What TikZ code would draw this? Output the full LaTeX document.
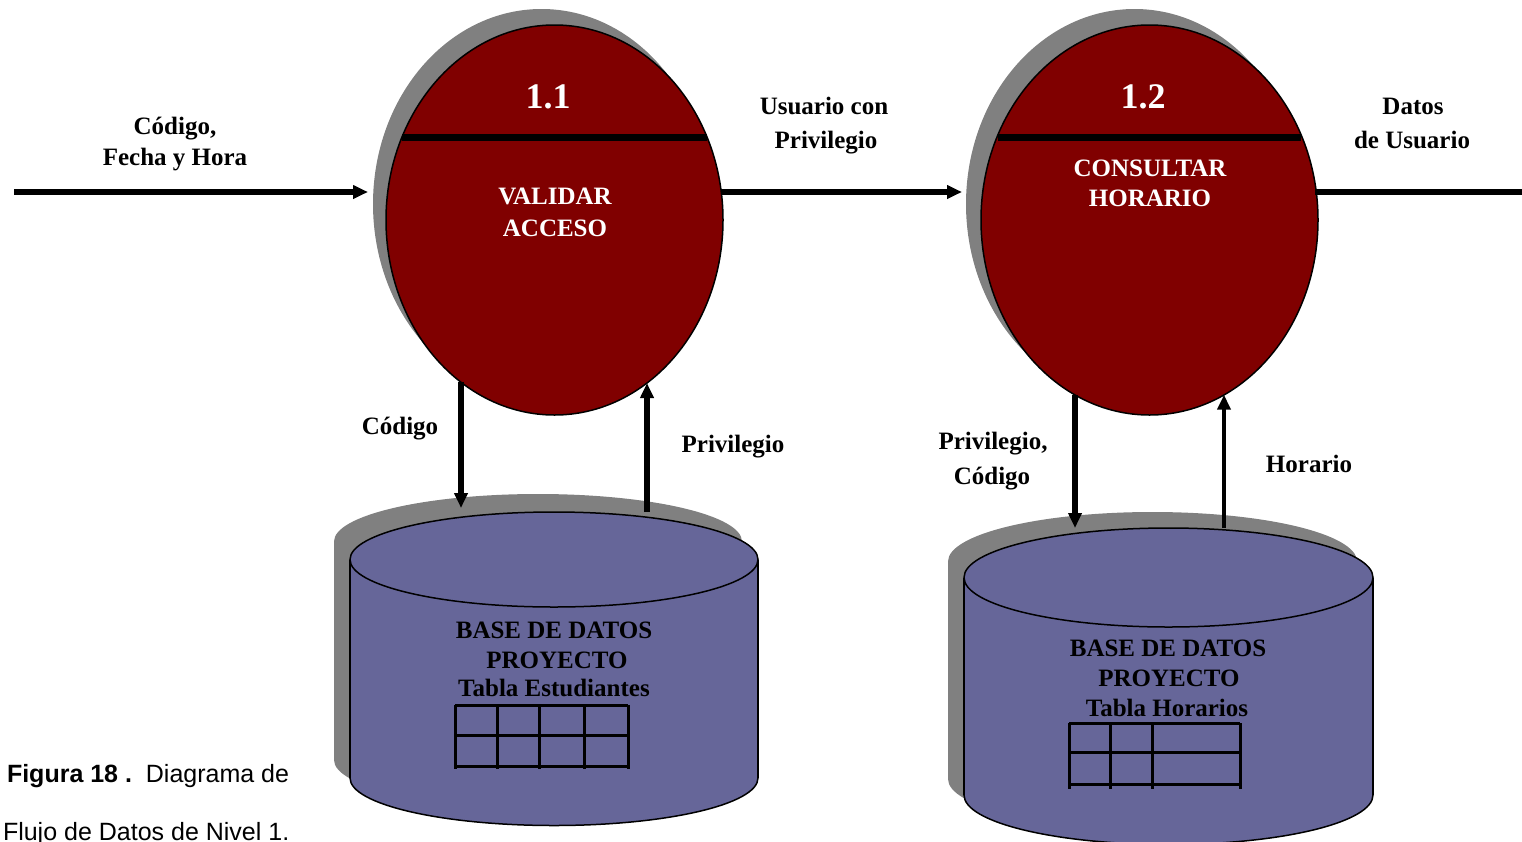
\documentclass[tikz,border=0pt]{standalone}
\usepackage{fontspec}
\setmainfont{Liberation Serif}
\newfontfamily\capfont{Liberation Sans}
\usetikzlibrary{arrows.meta,shapes.geometric,calc}

\definecolor{procred}{HTML}{800000}
\definecolor{shadowgray}{HTML}{808080}
\definecolor{dbblue}{HTML}{666699}

\begin{document}
\begin{tikzpicture}[x=1pt,y=-1pt,
  every node/.style={inner sep=0pt, outer sep=0pt},
  procsize/.style={ellipse, minimum width=337pt, minimum height=390pt},
  proc/.style={procsize, draw=black, line width=1.5pt, fill=procred},
  procshadow/.style={procsize, fill=shadowgray},
  dbsize/.style={ellipse, minimum width=408pt, minimum height=95pt},
  dbend/.style={dbsize, draw=black, line width=1.5pt, fill=dbblue},
  dbshadow/.style={dbsize, fill=shadowgray},
  dbline/.style={draw=black, line width=1.5pt},
  tbl/.style={draw=black, line width=3pt},
  bar/.style={draw=black, line width=7pt},
  flow/.style={draw=black, line width=5.5pt, -{Triangle[length=15pt,width=13pt]}},
  flowline/.style={draw=black, line width=5.5pt},
  lbl/.style={anchor=base, font=\fontsize{25}{30}\selectfont\bfseries},
  ptitle/.style={anchor=base, text=white, font=\fontsize{25}{30}\selectfont\bfseries},
  pnum/.style={anchor=base, text=white, font=\fontsize{36}{40}\selectfont\bfseries},
  figcaption/.style={anchor=base west, font=\fontsize{25}{30}\selectfont\capfont}
]
\useasboundingbox (0,0) rectangle (1522,841);

% ---- process 1.1 ----
\node[procshadow] (p1s) at (541.5,204) {};
\node[proc] (p1) at (554.5,220) {};
\draw[bar] ($(p1.center)+(-152.5,-83)$) -- ($(p1.center)+(152.5,-83)$);
\node[pnum] (p1num) at (548,108) {1.1};
\node[ptitle] (p1t1) at (555,204.5) {VALIDAR};
\node[ptitle] (p1t2) at (555,236.5) {ACCESO};

% ---- process 1.2 ----
\node[procshadow] (p2s) at (1134.5,204) {};
\node[proc] (p2) at (1149.5,220) {};
\draw[bar] ($(p2.center)+(-151.6,-83)$) -- ($(p2.center)+(151.6,-83)$);
\node[pnum] (p2num) at (1143,108) {1.2};
\node[ptitle] (p2t1) at (1150,176.5) {CONSULTAR};
\node[ptitle] (p2t2) at (1150,206.5) {HORARIO};

% ---- data store 1 ----
\node[dbshadow] (db1sb) at (538,760) {};
\fill[shadowgray] (334,541.5) rectangle (742,760);
\node[dbshadow] (db1st) at (538,541.5) {};
\node[dbend] (db1b) at (554,778) {};
\fill[dbblue] (350,559.5) rectangle (758,778);
\node[dbend] (db1) at (554,559.5) {};
\draw[dbline] (db1.west) -- (db1b.west) (db1.east) -- (db1b.east);
\node[lbl] (db1t1) at (554,638.5) {BASE DE DATOS};
\node[lbl] (db1t2) at (557,668.5) {PROYECTO};
\node[lbl] (db1t3) at (554,696.5) {Tabla Estudiantes};
\draw[tbl] (455,705) -- (628,705) (455,735) -- (628,735) (455,766) -- (628,766);
\foreach \x in {455,497,539,584,628} \draw[tbl] (\x,705) -- (\x,769);

% ---- data store 2 ----
\node[dbshadow, minimum width=409pt, minimum height=99pt] (db2sb) at (1152.5,779) {};
\fill[shadowgray] (948,561.5) rectangle (1357,779);
\node[dbshadow, minimum width=409pt, minimum height=99pt] (db2st) at (1152.5,561.5) {};
\node[dbend, minimum width=409pt, minimum height=99pt] (db2b) at (1168.5,795) {};
\fill[dbblue] (964,577.5) rectangle (1373,795);
\node[dbend, minimum width=409pt, minimum height=99pt] (db2) at (1168.5,577.5) {};
\draw[dbline] (db2.west) -- (db2b.west) (db2.east) -- (db2b.east);
\node[lbl] (db2t1) at (1168,656.5) {BASE DE DATOS};
\node[lbl] (db2t2) at (1169,686.5) {PROYECTO};
\node[lbl] (db2t3) at (1167,716.5) {Tabla Horarios};
\draw[tbl] (1069,723) -- (1240,723) (1069,752) -- (1240,752) (1069,784) -- (1240,784);
\foreach \x in {1069,1110,1152,1240} \draw[tbl] (\x,723) -- (\x,789);

% ---- flows ----
\coordinate (src) at (14,192);
\coordinate (sink) at (1522,192);
\coordinate (p1out) at ($(p1.center)+(166.8,-28)$);
\coordinate (p2out) at ($(p2.center)+(165.8,-28)$);
\draw[flow, shorten >=5pt] (src) -- (src -| p1s.west);
\draw[flow, shorten >=4pt] (p1out) -- (p1out -| p2s.west);
\draw[flowline] (p2out) -- (p2out -| sink);

\coordinate (p1dn) at ($(p1.center)+(-93.5,162.2)$);
\coordinate (p1up) at ($(p1.center)+(92.5,163)$);
\coordinate (p2dn) at ($(p2.center)+(-74.5,174.7)$);
\coordinate (p2up) at ($(p2.center)+(74.5,174.7)$);
\draw[flow, shorten >=4pt] (p1dn) -- (p1dn |- db1.north);
\draw[flow] (p1up |- db1.north) -- (p1up);
\draw[flow] (p2dn) -- (p2dn |- db2.north);
\draw[flow, line width=4pt] (p2up |- db2.north) -- (p2up);

% ---- flow labels ----
\node[lbl] (l1a) at (175,134) {Código,};
\node[lbl] (l1b) at (175,165) {Fecha y Hora};
\node[lbl] (l2a) at (824,114) {Usuario con};
\node[lbl] (l2b) at (826,148) {Privilegio};
\node[lbl] (l3a) at (1413,114) {Datos};
\node[lbl] (l3b) at (1412,148) {de Usuario};
\node[lbl] (l4) at (400,434.5) {Código};
\node[lbl] (l5) at (733,452.5) {Privilegio};
\node[lbl] (l6a) at (993,449.5) {Privilegio,};
\node[lbl] (l6b) at (992,484.5) {Código};
\node[lbl] (l7) at (1309,472.5) {Horario};

% ---- caption ----
\node[figcaption] (cap1) at (7,782) {\textbf{Figura 18 .}\ \ Diagrama de};
\node[figcaption] (cap2) at (3,840) {Flujo de Datos de Nivel 1.};
\end{tikzpicture}
\end{document}
